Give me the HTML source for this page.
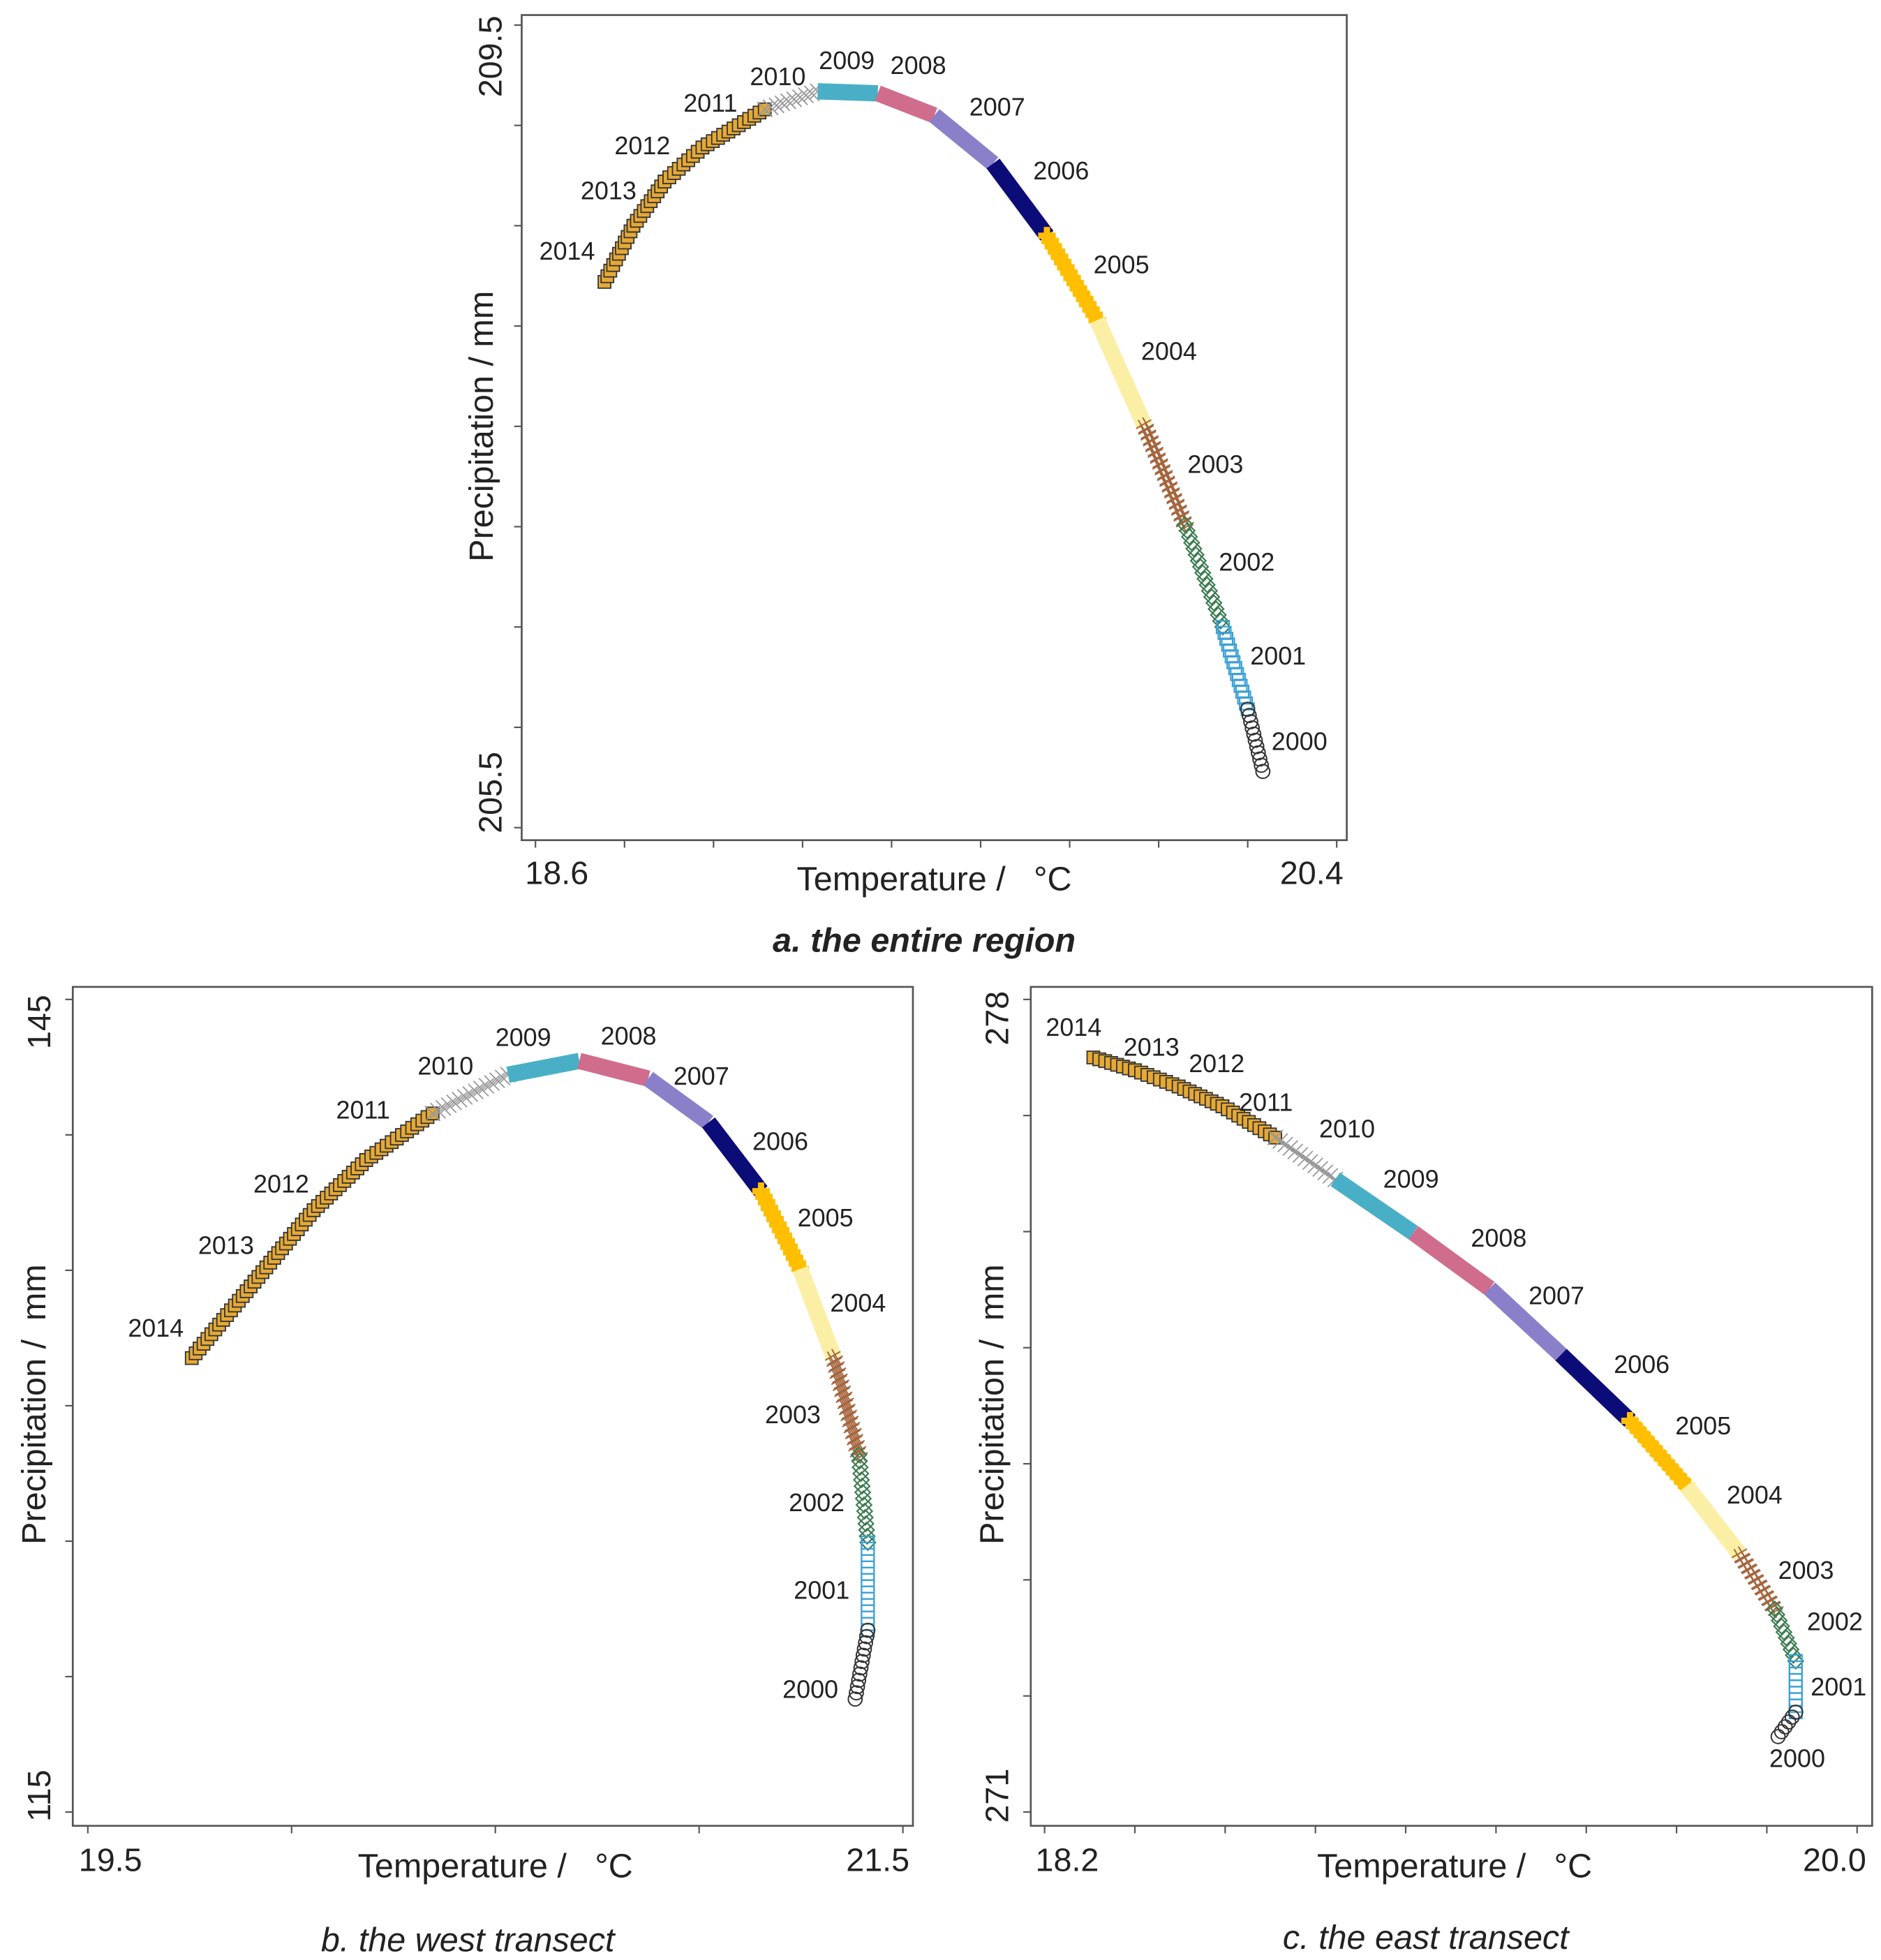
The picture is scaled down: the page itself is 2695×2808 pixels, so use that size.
<!DOCTYPE html>
<html><head><meta charset="utf-8"><style>
html,body{margin:0;padding:0;background:#fff}
svg{display:block}
text{font-family:"Liberation Sans",sans-serif;fill:#222}
</style></head><body>
<svg id="fig" width="2695" height="2808" viewBox="0 0 1500 1563" xmlns="http://www.w3.org/2000/svg">
<g id="pa"></g>
<g id="pb"></g>
<g id="pc"></g>
</svg>
<script>
// year order along each curve: 2014 -> 2000 (16 boundary points)
const years = [2014,2013,2012,2011,2010,2009,2008,2007,2006,2005,2004,2003,2002,2001,2000];
const aTemp = [18.755,18.820,18.890,18.975,19.115,19.234,19.369,19.496,19.628,19.749,19.862,19.969,20.059,20.144,20.200,20.234];
const aPrec = [208.22,208.50,208.72,208.89,209.08,209.17,209.16,209.05,208.81,208.45,208.03,207.50,207.01,206.50,206.09,205.78];
const bTemp = [19.755,19.909,20.054,20.183,20.346,20.531,20.706,20.875,21.023,21.152,21.248,21.331,21.392,21.414,21.414,21.383];
const bPrec = [131.76,134.58,137.22,139.07,140.79,142.22,142.73,142.08,140.46,137.92,135.05,131.76,128.19,124.95,121.71,119.17];
const cTemp = [18.308,18.400,18.497,18.594,18.711,18.844,19.017,19.186,19.344,19.497,19.622,19.742,19.817,19.864,19.864,19.825];
const cPrec = [277.50,277.39,277.25,277.08,276.81,276.45,275.99,275.51,274.94,274.37,273.81,273.21,272.75,272.30,271.86,271.65];
const aXTicks = ["18.6","20.4"], aYTicks = ["209.5","205.5"];
const bXTicks = ["19.5","21.5"], bYTicks = ["145","115"];
const cXTicks = ["18.2","20.0"], cYTicks = ["278","271"];

const NS="http://www.w3.org/2000/svg";
function mk(p,tag,at){const e=document.createElementNS(NS,tag);for(const k in at)e.setAttribute(k,at[k]);p.appendChild(e);return e;}
const styles={
2014:{t:'sq',f:'#e6a935',s:'#333'},2013:{t:'sq',f:'#e6a935',s:'#333'},2012:{t:'sq',f:'#e6a935',s:'#333'},2011:{t:'sq',f:'#e6a935',s:'#333'},
2010:{t:'x',f:'none',s:'#999'},2009:{t:'fill',f:'#49afc6'},2008:{t:'fill',f:'#d06c8c'},2007:{t:'fill',f:'#8a80ca'},
2006:{t:'fill',f:'#0c0c78'},2005:{t:'plus',f:'#ffbf00'},2004:{t:'fill',f:'#fbefa6'},2003:{t:'hash',f:'none',s:'#a5653e'},
2002:{t:'dia',f:'none',s:'#3d7d52'},2001:{t:'osq',f:'none',s:'#3aa0d4'},2000:{t:'circ',f:'none',s:'#333'}};

function panel(g,box,xr,yr,temps,precs,xt,yt,labels,titles){
  const [L,T,R,B]=box;
  const sx=v=>xr[2]+(v-xr[0])/(xr[1]-xr[0])*(xr[3]-xr[2]);
  const sy=v=>yr[2]+(v-yr[0])/(yr[1]-yr[0])*(yr[3]-yr[2]);
  const fr=mk(g,'rect',{x:L,y:T,width:R-L,height:B-T,fill:'none',stroke:'#555','stroke-width':1.5});
  
  
  for(let i=0;i<=9;i++){const x=xr[2]+i*(xr[3]-xr[2])/xr[4]; if(x>R)break;
    const t=mk(g,'line',{x1:x,y1:B,x2:x,y2:B+6,stroke:'#555','stroke-width':1.2});
    
    }
  for(let i=0;i<=9;i++){const y=yr[3]+i*(yr[2]-yr[3])/yr[4]; if(y>B)break;
    const t=mk(g,'line',{x1:L-6,y1:y,x2:L,y2:y,stroke:'#555','stroke-width':1.2});
    
    }
  xt.forEach((s,i)=>{const e=mk(g,'text',{x:titles.xl[i][0],y:titles.xl[i][1],'font-size':26,'text-anchor':'middle'});e.textContent=s;
    
    });
  yt.forEach((s,i)=>{const [x,y]=titles.yl[i];const e=mk(g,'text',{x:x,y:y,'font-size':26,'text-anchor':'middle',transform:`rotate(-90 ${x} ${y})`});e.textContent=s;
    
    });
  for(let k=0;k<years.length;k++){
    const st=styles[years[k]];
    const x0=sx(temps[k]),y0=sy(precs[k]),x1=sx(temps[k+1]),y1=sy(precs[k+1]);
    const yg=mk(g,'g',{});
    
    
    const len=Math.hypot(x1-x0,y1-y0), n=Math.max(4,Math.round(len/5));
    if(st.t==='fill'){mk(yg,'line',{x1:x0,y1:y0,x2:x1,y2:y1,stroke:st.f,'stroke-width':13,'stroke-linecap':'butt'});continue;}
    for(let j=0;j<=n;j++){
      const x=x0+(x1-x0)*j/n,y=y0+(y1-y0)*j/n;
      if(st.t==='sq')mk(yg,'rect',{x:x-5,y:y-5,width:10,height:10,fill:st.f,stroke:st.s,'stroke-width':1});
      else if(st.t==='osq')mk(yg,'rect',{x:x-5,y:y-5,width:10,height:10,fill:'none',stroke:st.s,'stroke-width':1.2});
      else if(st.t==='circ')mk(yg,'circle',{cx:x,cy:y,r:5.5,fill:'none',stroke:st.s,'stroke-width':1.1});
      else if(st.t==='dia')mk(yg,'path',{d:`M${x} ${y-6}L${x+6} ${y}L${x} ${y+6}L${x-6} ${y}Z`,fill:'none',stroke:st.s,'stroke-width':1.2});
      else if(st.t==='x')mk(yg,'path',{d:`M${x-6} ${y-6}L${x+6} ${y+6}M${x+6} ${y-6}L${x-6} ${y+6}`,stroke:st.s,'stroke-width':1});
      else if(st.t==='hash')mk(yg,'path',{d:`M${x-7} ${y-2}L${x+7} ${y-2}M${x-7} ${y+2}L${x+7} ${y+2}M${x-2} ${y-7}L${x-2} ${y+7}M${x+2} ${y-7}L${x+2} ${y+7}`,stroke:st.s,'stroke-width':1.1,transform:`rotate(-30 ${x} ${y})`});
      else if(st.t==='plus')mk(yg,'path',{d:`M${x-7} ${y}L${x+7} ${y}M${x} ${y-7}L${x} ${y+7}`,stroke:st.f,'stroke-width':5});
    }
  }
  labels.forEach(l=>{const e=mk(g,'text',{x:l[1],y:l[2],'font-size':20});e.textContent=l[0];
    
    });
  const xtl=mk(g,'text',{x:titles.xt[0],y:titles.xt[1],'font-size':27,'text-anchor':'middle'});xtl.textContent='Temperature /\u00a0\u00a0\u00a0°C';
  
  
  const [yx,yy]=titles.yt;
  const ytl=mk(g,'text',{x:yx,y:yy,'font-size':27,'text-anchor':'middle',transform:`rotate(-90 ${yx} ${yy})`});ytl.textContent=titles.ytext;
  
  
  const cap=mk(g,'text',{x:titles.cap[0],y:titles.cap[1],'font-size':27,'text-anchor':'middle','font-style':'italic','font-weight':titles.bold?'bold':'normal'});cap.textContent=titles.captext;
  
  
}
panel(document.getElementById('pa'),[416,12,1074,670],[18.6,20.4,427,1066,9],[205.5,209.5,660,20,8],aTemp,aPrec,aXTicks,aYTicks,
 [["2014",430,207],["2013",463,159],["2012",490,123],["2011",545,89],["2010",598,68],["2009",653,55],["2008",710,59],["2007",773,92],["2006",824,143],["2005",872,218],["2004",910,287],["2003",947,377],["2002",972,455],["2001",997,530],["2000",1014,598]],
 {xl:[[444,705],[1046,705]],yl:[[400,45],[400,632]],xt:[745,710],yt:[393,340],ytext:'Precipitation / mm',cap:[737,759],captext:'a. the entire region',bold:true});
panel(document.getElementById('pb'),[58,787,728,1456],[19.5,21.5,70,720,4],[115,145,1445,797,6],bTemp,bPrec,bXTicks,bYTicks,
 [["2014",102,1066],["2013",158,1000],["2012",202,951],["2011",268,892],["2010",333,857],["2009",395,834],["2008",479,833],["2007",537,865],["2006",600,917],["2005",636,978],["2004",662,1046],["2003",610,1135],["2002",629,1205],["2001",633,1275],["2000",624,1354]],
 {xl:[[88,1492],[700,1492]],yl:[[40,815],[40,1432]],xt:[395,1497],yt:[36,1120],ytext:'Precipitation /\u00a0\u00a0mm',cap:[373,1556],captext:'b. the west transect',bold:false});
panel(document.getElementById('pc'),[822,787,1493,1456],[18.2,20.0,833,1481,9],[271,278,1445,797,7],cTemp,cPrec,cXTicks,cYTicks,
 [["2014",834,826],["2013",896,842],["2012",948,855],["2011",988,886],["2010",1052,907],["2009",1103,947],["2008",1173,994],["2007",1219,1040],["2006",1287,1095],["2005",1336,1144],["2004",1377,1199],["2003",1418,1259],["2002",1441,1300],["2001",1444,1352],["2000",1411,1409]],
 {xl:[[851,1492],[1463,1492]],yl:[[804,812],[804,1432]],xt:[1160,1497],yt:[800,1120],ytext:'Precipitation /\u00a0\u00a0mm',cap:[1137,1554],captext:'c. the east transect',bold:false});
</script>
</body></html>
